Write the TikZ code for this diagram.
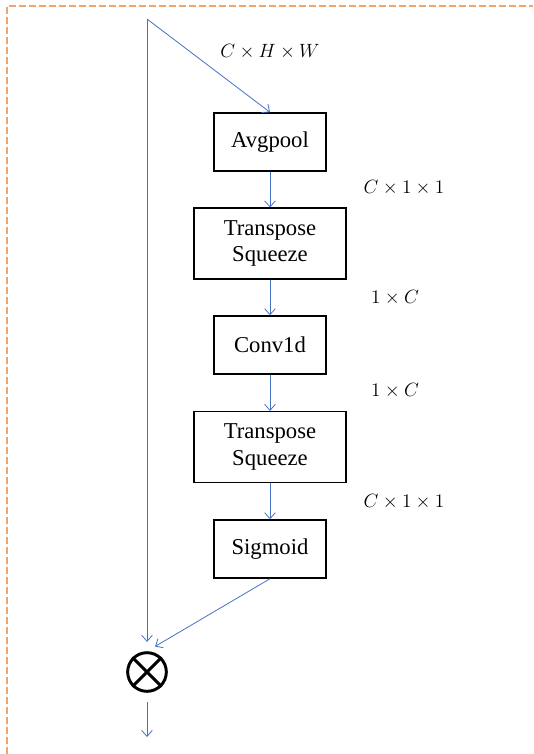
\documentclass[tikz,border=0pt]{standalone}
\usepackage[no-math]{fontspec}
\setmainfont{Liberation Serif}
\usepackage{tikz}
\usetikzlibrary{arrows.meta, positioning}
\definecolor{flowblue}{HTML}{4472C4}
\definecolor{frameorange}{HTML}{F4A46A}

\begin{document}
\begin{tikzpicture}[
    x=0.75pt, y=-0.75pt,
    every node/.style={font=\fontsize{17}{20}\selectfont},
    block/.style={
        rectangle,
        draw=black,
        line width=1.1pt,
        minimum width=84pt,
        minimum height=43.5pt,
        align=center,
        inner sep=2pt
    },
    wideblock/.style={block, minimum width=114pt, minimum height=53pt},
    dims/.style={font=\fontsize{15.5}{18}\selectfont},
    arrow/.style={line width=0.6pt, color=flowblue, -{Straight Barb[length=4.5pt,width=8pt]}},
    mulsign/.style={circle, draw=black, line width=2.2pt, minimum size=29pt, inner sep=0pt}
]

\useasboundingbox (0,0) rectangle (533,754);

% dashed outer frame
\draw[frameorange, line width=1.1pt, dash pattern=on 5pt off 2.5pt] (7,754) -- (7,6) -- (533,6);

\coordinate (in) at (147,19);
\coordinate (out) at (147,737);

\node[block] (avg) at (270,142) {Avgpool};
\node[wideblock] (tsa) at (270,243.5) {Transpose\\Squeeze};
\node[block] (conv) at (270,345) {Conv1d};
\node[wideblock] (tsb) at (270,447) {Transpose\\Squeeze};
\node[block] (sig) at (270,549) {Sigmoid};

\node[mulsign] (mul) at (147,672) {};
\draw[line width=2.2pt] (mul.45) -- (mul.225);
\draw[line width=2.2pt] (mul.135) -- (mul.315);

\node[dims] (dhw) at (270,52) {$C \times H \times W$};
\node[dims] (dca) at (404,188) {$C \times 1 \times 1$};
\node[dims] (dcb) at (395,298) {$1 \times C$};
\node[dims] (dcc) at (395,391) {$1 \times C$};
\node[dims] (dcd) at (404,502) {$C \times 1 \times 1$};

\draw[arrow] (in) -- (avg.north);
\draw[arrow] (avg) -- (tsa);
\draw[arrow] (tsa) -- (conv);
\draw[arrow] (conv) -- (tsb);
\draw[arrow] (tsb) -- (sig);
\draw[arrow, shorten >=7pt] (in) -- (mul.north);
\draw[arrow, shorten >=7pt] (sig.south) -- (mul.north);
\draw[arrow, shorten <=7pt] (mul.south) -- (out);

\end{tikzpicture}
\end{document}
